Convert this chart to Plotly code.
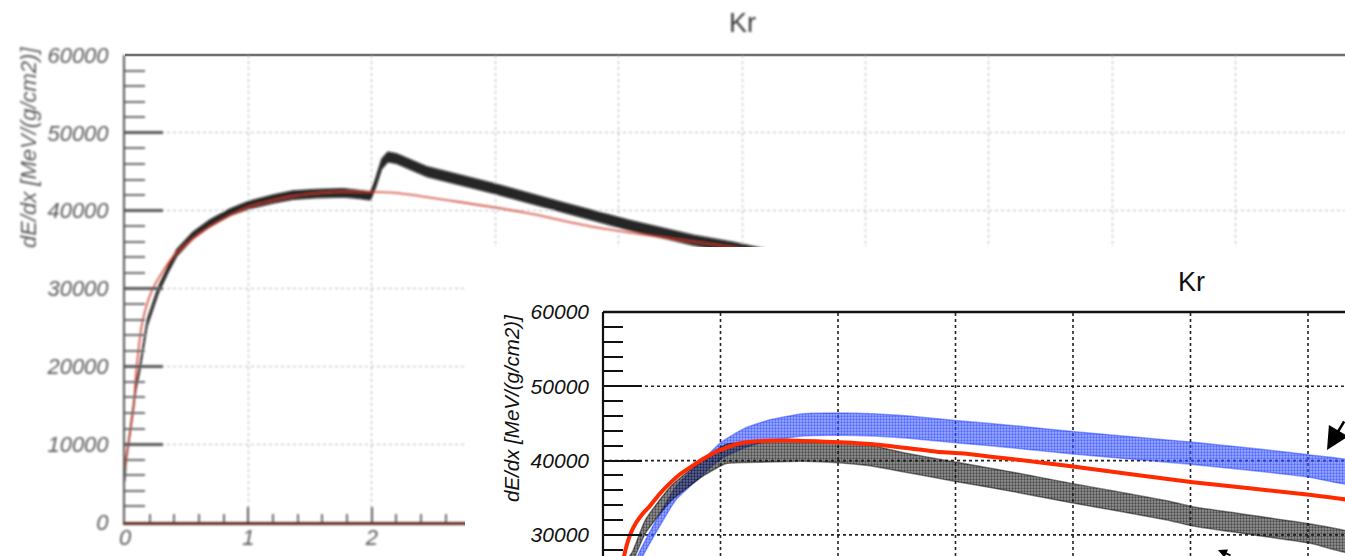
import plotly.graph_objects as go

W, H = 1345, 556

# ---------------- back panel: Kr, dE/dx versus depth ----------------
back_x = [0.0, 0.01, 0.03, 0.06, 0.09, 0.12, 0.18, 0.27, 0.35, 0.42, 0.55, 0.69,
          0.85, 1.0, 1.2, 1.36, 1.55, 1.77, 1.9, 1.99, 2.03, 2.08, 2.13, 2.2,
          2.45, 2.98, 3.53, 4.07, 4.61, 4.93, 5.2]
back_data = [5500, 8000, 10200, 14000, 17500, 19800, 25600, 29800, 32500, 34600,
             36800, 38400, 39800, 40700, 41500, 42000, 42200, 42300, 42100, 41900,
             43500, 46000, 46900, 46700, 45000, 42900, 40500, 38200, 36200, 35300, 34400]
back_spread = [300, 350, 400, 450, 450, 450, 450, 450, 450, 450, 450, 450,
               450, 500, 550, 550, 550, 550, 550, 550, 600, 650, 650, 650,
               650, 650, 650, 650, 650, 650, 650]

back_fit_x = [0.0, 0.01, 0.04, 0.07, 0.09, 0.14, 0.22, 0.39, 0.61, 0.83, 1.01,
              1.34, 1.69, 2.0, 2.18, 2.72, 3.26, 3.8, 4.34, 4.93, 5.2]
back_fit = [7000, 8400, 11400, 14800, 19200, 25600, 29800, 34100, 37100, 39200,
            40500, 41800, 42400, 42400, 42300, 41100, 39700, 37900, 36600, 35300, 34700]

# ---------------- front panel: Kr, two samples and fit ----------------
front_black_x = [0.18, 0.25, 0.36, 0.58, 0.86, 1.05, 1.4, 1.7, 2.0, 2.27, 2.55,
                 3.0, 3.5, 4.0, 4.8, 5.02, 6.01, 6.4]
front_black = [25500, 27000, 31100, 35600, 39100, 40900, 41200, 41300, 41100,
               40700, 39800, 38500, 37100, 35600, 33300, 32500, 30200, 28800]
front_black_spread = [700, 700, 900, 1000, 1100, 1300, 1400, 1400, 1400, 1400,
                      1300, 1300, 1300, 1300, 1300, 1300, 1300, 1300]

front_blue_x = [0.27, 0.31, 0.45, 0.62, 0.85, 1.0, 1.2, 1.4, 1.7, 2.0, 2.3, 2.6,
                3.0, 3.5, 4.0, 4.5, 5.0, 5.5, 6.0, 6.4]
front_blue = [25500, 27000, 31100, 35600, 39100, 41300, 43000, 44000, 44800, 44900,
              44800, 44500, 43900, 43200, 42400, 41700, 41000, 40200, 39300, 38300]
front_blue_spread = [700, 700, 800, 900, 1000, 1100, 1300, 1400, 1500, 1500, 1500,
                     1500, 1500, 1500, 1500, 1500, 1500, 1500, 1500, 1500]

front_fit_x = [0.15, 0.17, 0.2, 0.23, 0.28, 0.34, 0.40, 0.47, 0.54, 0.65, 0.77,
               0.88, 0.995, 1.19, 1.53, 1.96, 2.3, 2.84, 3.04, 4.0, 5.02, 6.01, 6.4]
front_fit = [25000, 26500, 28500, 30000, 31600, 32900, 33900, 35300, 36500, 38100,
             39400, 40500, 41400, 42400, 42700, 42500, 42200, 41200, 41000, 39200,
             37100, 35400, 34600]

y_major = [0, 10000, 20000, 30000, 40000, 50000, 60000]
y_major_text = ["0", "10000", "20000", "30000", "40000", "50000", "60000"]
x_major = [0, 1, 2, 3, 4, 5, 6, 7, 8, 9]
x_major_text = ["0", "1", "2", "3", "4", "5", "6", "7", "8", "9"]
title_text = "Kr"
ytitle_text = "dE/dx [MeV/(g/cm2)]"

# ---------------- pixel geometry of the two frames ----------------
B_LEFT, B_TOP, B_BOTTOM, B_UNIT = 125, 55, 522, 123.4   # back frame
F_BOX_L, F_BOX_T = 465, 247                             # white front box
F_LEFT, F_TOP, F_UNIT, F_Y10K = 603, 312, 117.5, 74.3   # front frame

back_xrange = [0, (W - B_LEFT) / B_UNIT]
front_xrange = [(F_BOX_L - F_LEFT) / F_UNIT, (W - F_LEFT) / F_UNIT]
front_yrange = [60000 - (H - F_TOP) / F_Y10K * 10000,
                60000 + (F_TOP - F_BOX_T) / F_Y10K * 10000]


def band(x, mid, spread):
    upper = [m + s for m, s in zip(mid, spread)]
    lower = [m - s for m, s in zip(mid, spread)]
    return x + x[::-1], upper + lower[::-1]


def px(v):
    return v / W


def py(v):
    return (H - v) / H


fig = go.Figure()

# back panel traces
bx, by = band(back_x, back_data, back_spread)
fig.add_trace(go.Scatter(x=bx, y=by, mode="lines", fill="toself",
                         fillcolor="rgba(10,10,10,0.9)",
                         line=dict(color="rgba(10,10,10,0.6)", width=1.2),
                         xaxis="x", yaxis="y", hoverinfo="skip", showlegend=False))
fig.add_trace(go.Scatter(x=back_fit_x, y=back_fit, mode="lines",
                         line=dict(color="rgba(205,55,40,0.9)", width=1.6,
                                   shape="spline", smoothing=0.7),
                         xaxis="x", yaxis="y", hoverinfo="skip", showlegend=False))

# front panel traces: dotted bands for the two point clouds
ux, uy = band(front_blue_x, front_blue, front_blue_spread)
fig.add_trace(go.Scatter(x=ux, y=uy, mode="lines", fill="toself",
                         fillpattern=dict(shape=".", fgcolor="#0a28ff",
                                          bgcolor="rgba(70,100,255,0.55)", size=3,
                                          solidity=0.45),
                         line=dict(color="rgba(31,61,255,0.45)", width=1.5,
                                   shape="spline", smoothing=0.5),
                         xaxis="x2", yaxis="y2", hoverinfo="skip", showlegend=False))
kx, ky = band(front_black_x, front_black, front_black_spread)
fig.add_trace(go.Scatter(x=kx, y=ky, mode="lines", fill="toself",
                         fillpattern=dict(shape=".", fgcolor="#000000",
                                          bgcolor="rgba(40,40,40,0.5)", size=3,
                                          solidity=0.45),
                         line=dict(color="rgba(0,0,0,0.45)", width=1.5,
                                   shape="spline", smoothing=0.5),
                         xaxis="x2", yaxis="y2", hoverinfo="skip", showlegend=False))
fig.add_trace(go.Scatter(x=front_fit_x, y=front_fit, mode="lines",
                         line=dict(color="#ff2a00", width=4, shape="spline",
                                   smoothing=0.6),
                         xaxis="x2", yaxis="y2", hoverinfo="skip", showlegend=False))

tick_font_back = dict(family="Liberation Sans", size=22, color="#5a5a5a", style="italic")
tick_font_front = dict(family="Liberation Sans", size=21, color="#111111", style="italic")

y_minor = [v for v in range(0, 60001, 2000) if v % 10000]
x_minor = [i / 5 for i in range(0, 50) if i % 5]

fig.update_layout(
    width=W, height=H,
    margin=dict(l=0, r=0, t=0, b=0, pad=0, autoexpand=False),
    paper_bgcolor="white", plot_bgcolor="white",
    showlegend=False,
    xaxis=dict(domain=[px(B_LEFT), 1], range=back_xrange, anchor="y",
               automargin=False,
               showline=True, linecolor="#5e2a24", linewidth=2.5,
               ticks="inside", tickvals=x_major, ticktext=x_major_text,
               ticklen=15, tickwidth=2, tickcolor="#5a5a5a",
               minor=dict(tickvals=x_minor, ticks="inside", ticklen=8,
                          tickwidth=1.5, tickcolor="#6a6a6a"),
               showgrid=True, gridcolor="#b5b5b5", griddash="dot", gridwidth=1.3,
               zeroline=False, tickfont=tick_font_back, ticklabelstandoff=-6),
    yaxis=dict(domain=[py(B_BOTTOM), py(B_TOP)], range=[0, 60000], anchor="x",
               automargin=False,
               showline=True, linecolor="#555555", linewidth=2,
               ticks="inside", tickvals=y_major, ticktext=y_major_text,
               ticklen=38, tickwidth=2.5, tickcolor="#5a5a5a",
               minor=dict(tickvals=y_minor, ticks="inside", ticklen=20,
                          tickwidth=2, tickcolor="#6a6a6a"),
               showgrid=True, gridcolor="#b5b5b5", griddash="dot", gridwidth=1.3,
               zeroline=False, tickfont=tick_font_back, ticklabelstandoff=10),
    xaxis2=dict(domain=[px(F_BOX_L), 1], range=front_xrange, anchor="y2",
                automargin=False,
                showline=False, showgrid=False, zeroline=False, ticks="",
                showticklabels=False),
    yaxis2=dict(domain=[0, py(F_BOX_T)], range=front_yrange, anchor="free",
                position=px(F_LEFT), side="left", automargin=False,
                showline=False, showgrid=False, zeroline=False,
                ticks="inside", tickvals=y_major[3:], ticktext=y_major_text[3:],
                ticklen=38, tickwidth=2.2, tickcolor="#111111",
                minor=dict(tickvals=[v for v in y_minor if v >= 28000],
                           ticks="inside", ticklen=19, tickwidth=2.2,
                           tickcolor="#111111"),
                tickfont=tick_font_front, ticklabelstandoff=14),
)

shapes = [
    # top edge of back frame
    dict(type="line", xref="paper", yref="paper", x0=px(B_LEFT), x1=1,
         y0=py(B_TOP), y1=py(B_TOP), line=dict(color="#6e6e6e", width=2.5),
         layer="below"),
]
# front frame
fy_lo = front_yrange[0]
fx_hi = front_xrange[1]
shapes.append(dict(type="line", xref="x2", yref="y2", x0=0, x1=0, y0=fy_lo,
                   y1=60000, line=dict(color="#111111", width=2.2), layer="below"))
shapes.append(dict(type="line", xref="x2", yref="y2", x0=0, x1=fx_hi, y0=60000,
                   y1=60000, line=dict(color="#111111", width=2.5), layer="below"))
# front dotted grid
for v in y_major[3:6]:
    shapes.append(dict(type="line", xref="x2", yref="y2", x0=0, x1=fx_hi, y0=v,
                       y1=v, line=dict(color="#222222", width=1.6, dash="dot"),
                       layer="below"))
for g in x_major[1:7]:
    shapes.append(dict(type="line", xref="x2", yref="y2", x0=g, x1=g, y0=fy_lo,
                       y1=60000, line=dict(color="#222222", width=1.6, dash="dot"),
                       layer="below"))
fig.update_layout(shapes=shapes)

annotations = [
    dict(text=title_text, xref="paper", yref="paper", x=px(742), y=py(23),
         xanchor="center", yanchor="middle", showarrow=False,
         font=dict(family="Liberation Sans", size=27, color="#3a3a3a")),
    dict(text=ytitle_text, xref="paper", yref="paper", x=px(28), y=py(148),
         xanchor="center", yanchor="middle", textangle=-90, showarrow=False,
         font=dict(family="Liberation Sans", size=22, color="#5a5a5a", style="italic")),
    dict(text=title_text, xref="paper", yref="paper", x=px(1191), y=py(282),
         xanchor="center", yanchor="middle", showarrow=False,
         font=dict(family="Liberation Sans", size=27, color="#111111")),
    dict(text=ytitle_text, xref="paper", yref="paper", x=px(511), y=py(408),
         xanchor="center", yanchor="middle", textangle=-90, showarrow=False,
         font=dict(family="Liberation Sans", size=20.5, color="#111111", style="italic")),
    # pointer arrows
    dict(text="", xref="paper", yref="paper", x=px(1327), y=py(450), ax=40, ay=-30,
         showarrow=True, arrowhead=2, arrowsize=1.8, arrowwidth=2.5, arrowcolor="#000000"),
    dict(text="", xref="paper", yref="paper", x=px(1218), y=py(550), ax=14, ay=34,
         showarrow=True, arrowhead=2, arrowsize=1.0, arrowwidth=1.8, arrowcolor="#000000"),
]
fig.update_layout(annotations=annotations)

# the back panel is a soft, slightly blurred copy
soften = """
var gd = document.getElementById('{plot_id}');
var svg = gd.querySelector('svg.main-svg');
var ns = 'http://www.w3.org/2000/svg';
var defs = svg.querySelector('defs');
if (!defs) { defs = document.createElementNS(ns, 'defs'); svg.insertBefore(defs, svg.firstChild); }
var f = document.createElementNS(ns, 'filter');
f.setAttribute('id', 'backsoft');
var b = document.createElementNS(ns, 'feGaussianBlur');
b.setAttribute('stdDeviation', '0.8');
f.appendChild(b); defs.appendChild(f);
var sp = gd.querySelector('.subplot.xy');
if (sp) { sp.setAttribute('filter', 'url(#backsoft)'); }
var ann = gd.querySelectorAll('g.annotation');
for (var i = 0; i < 2 && i < ann.length; i++) { ann[i].setAttribute('filter', 'url(#backsoft)'); }
"""

fig.write_html("out.html", post_script=soften)
